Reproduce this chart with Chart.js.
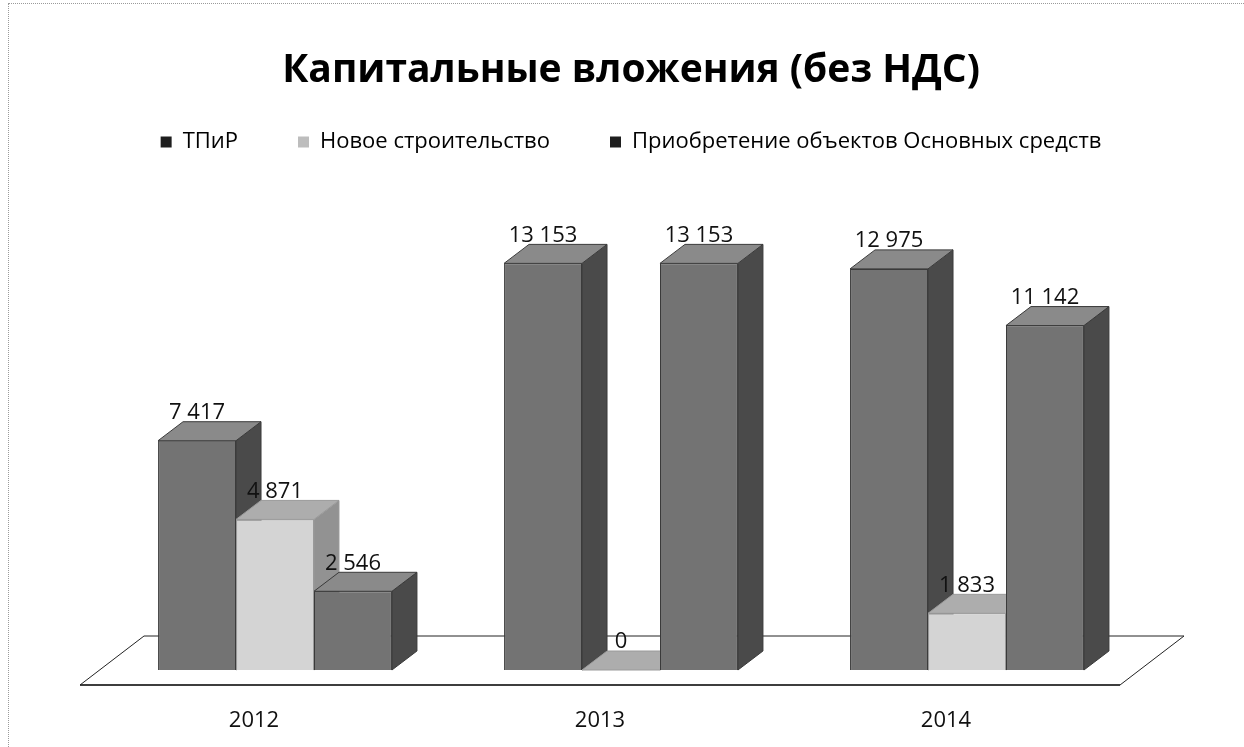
<!DOCTYPE html>
<html lang="ru">
<head>
<meta charset="UTF-8">
<title>Капитальные вложения (без НДС)</title>
<script src="https://cdn.jsdelivr.net/npm/chart.js"></script>
<style>
  html, body { margin: 0; padding: 0; background: #fff; }
  #wrap { position: relative; width: 1244px; height: 747px; }
  #frame { position: absolute; left: 8px; top: 3px; right: 0; bottom: 0;
           border-left: 1px dotted #9a9a9a; border-top: 1px dotted #9a9a9a; pointer-events: none; }
</style>
</head>
<body>
<div id="wrap">
  <canvas id="chart" width="1244" height="747"></canvas>
  <div id="frame"></div>
</div>
<script>
// data
const years = ['2012', '2013', '2014'];
const seriesNames = ['ТПиР', 'Новое строительство', 'Приобретение объектов Основных средств'];
const tpir = [7417, 13153, 12975];
const newBuild = [4871, 0, 1833];
const fixedAssets = [2546, 13153, 11142];

const FONT = "'Open Sans', 'Noto Sans', sans-serif";
const frontColors = ['#737373', '#d4d4d4', '#737373'];
const topColors = ['#8a8a8a', '#adadad', '#8a8a8a'];
const sideColors = ['#4a4a4a', '#929292', '#4a4a4a'];
const edgeColors = ['#3a3a3a', '#9a9a9a', '#3a3a3a'];
const legendColors = ['#1e1e1e', '#bdbdbd', '#1e1e1e'];
const DX = 25, DY = 19; // bar depth

function fmt(v) {
  return String(v).replace(/\B(?=(\d{3})+(?!\d))/g, ' ');
}

// floor plane + top and side faces of the columns
const threeD = {
  id: 'threeD',
  beforeDatasetsDraw(chart) {
    const {ctx, chartArea: a} = chart;
    const fl = a.left - 22, fr = a.right - 20, fy = a.bottom + 15;
    const bx = 64, by = 49;
    ctx.save();
    ctx.fillStyle = '#fff';
    ctx.strokeStyle = '#222';
    ctx.lineWidth = 1;
    ctx.beginPath();
    ctx.moveTo(fl, fy);
    ctx.lineTo(fl + bx, fy - by);
    ctx.lineTo(fr + bx, fy - by);
    ctx.lineTo(fr, fy);
    ctx.closePath();
    ctx.fill();
    ctx.stroke();
    ctx.lineWidth = 1.6;
    ctx.beginPath();
    ctx.moveTo(fl, fy);
    ctx.lineTo(fr, fy);
    ctx.stroke();

    const bars = [];
    chart.data.datasets.forEach((ds, i) => {
      chart.getDatasetMeta(i).data.forEach(el => {
        bars.push({i, p: el.getProps(['x', 'y', 'base', 'width'], true)});
      });
    });
    bars.sort((m, n) => m.p.x - n.p.x);
    ctx.lineWidth = 1;
    bars.forEach(({i, p}) => {
      const l = p.x - p.width / 2, r = p.x + p.width / 2;
      ctx.fillStyle = sideColors[i];
      ctx.strokeStyle = edgeColors[i];
      ctx.beginPath();
      ctx.moveTo(r, p.y);
      ctx.lineTo(r + DX, p.y - DY);
      ctx.lineTo(r + DX, p.base - DY);
      ctx.lineTo(r, p.base);
      ctx.closePath();
      ctx.fill();
      ctx.stroke();
      ctx.fillStyle = topColors[i];
      ctx.beginPath();
      ctx.moveTo(l, p.y);
      ctx.lineTo(l + DX, p.y - DY);
      ctx.lineTo(r + DX, p.y - DY);
      ctx.lineTo(r, p.y);
      ctx.closePath();
      ctx.fill();
      ctx.stroke();
    });
    ctx.restore();
  },
  afterDatasetsDraw(chart) {
    const ctx = chart.ctx;
    ctx.save();
    ctx.font = '22px ' + FONT;
    ctx.fillStyle = '#111';
    ctx.textAlign = 'center';
    ctx.textBaseline = 'middle';
    chart.data.datasets.forEach((ds, i) => {
      chart.getDatasetMeta(i).data.forEach((el, j) => {
        const p = el.getProps(['x', 'y'], true);
        ctx.fillText(fmt(ds.data[j]), p.x, p.y - 28);
      });
    });
    ctx.restore();
  }
};

const hiddenAxis = (pos, w) => ({
  position: pos,
  display: true,
  min: 0,
  max: 16400,
  grid: {display: false},
  border: {display: false},
  ticks: {display: false},
  afterFit: s => { s.width = w; }
});

Chart.defaults.font.family = FONT;

new Chart(document.getElementById('chart').getContext('2d'), {
  type: 'bar',
  data: {
    labels: years,
    datasets: [
      {label: seriesNames[0], data: tpir},
      {label: seriesNames[1], data: newBuild},
      {label: seriesNames[2], data: fixedAssets}
    ].map((d, i) => Object.assign(d, {
      backgroundColor: frontColors[i],
      borderColor: edgeColors[i],
      borderWidth: 1,
      barPercentage: 1,
      categoryPercentage: 0.676
    }))
  },
  options: {
    responsive: false,
    animation: false,
    devicePixelRatio: 1,
    layout: {padding: {left: 18, right: 0, top: 0, bottom: 0}},
    plugins: {
      title: {
        display: true,
        text: 'Капитальные вложения (без НДС)',
        color: '#000',
        font: {size: 39, weight: 'bold', lineHeight: 1},
        padding: {top: 51, bottom: -19}
      },
      legend: {
        position: 'top',
        labels: {
          boxWidth: 11,
          boxHeight: 11,
          padding: 60,
          color: '#111',
          font: {size: 22},
          generateLabels: chart => chart.data.datasets.map((d, i) => ({
            text: d.label,
            fillStyle: legendColors[i],
            strokeStyle: legendColors[i],
            lineWidth: 0,
            hidden: false,
            datasetIndex: i
          }))
        }
      },
      tooltip: {enabled: false}
    },
    scales: {
      x: {
        grid: {display: false, drawTicks: false},
        border: {display: false},
        ticks: {color: '#111', font: {size: 22}, padding: 38, labelOffset: -21},
        afterFit: s => { s.height = 77; }
      },
      y: hiddenAxis('left', 84),
      yR: hiddenAxis('right', 104)
    }
  },
  plugins: [threeD]
});
</script>
</body>
</html>
